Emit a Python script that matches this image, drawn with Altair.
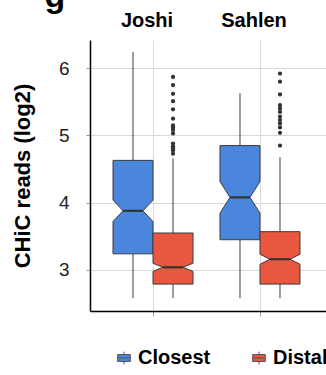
import altair as alt
import pandas as pd

# ---- data ----
groups = ["Joshi", "Sahlen"]
types = ["Closest", "Distal"]
# box order: Joshi-Closest, Joshi-Distal, Sahlen-Closest, Sahlen-Distal
whisker_low = [2.58, 2.58, 2.58, 2.58]
q1 = [3.24, 2.79, 3.45, 2.79]
median = [3.88, 3.04, 4.08, 3.16]
q3 = [4.63, 3.55, 4.85, 3.57]
whisker_high = [6.24, 4.66, 5.63, 4.68]
notch = [0.16, 0.06, 0.235, 0.075]
outliers_joshi_distal = [5.87, 5.75, 5.62, 5.51, 5.39, 5.25, 5.15, 5.12, 5.08,
                         5.03, 4.88, 4.84, 4.81, 4.78, 4.73]
outliers_sahlen_distal = [5.92, 5.80, 5.61, 5.45, 5.40, 5.35, 5.28, 5.23, 5.18,
                          5.12, 5.04, 4.85]
panel_letter = ["g"]

colors = ["#4A86DC", "#E8573E"]
edge = "#3d3d3d"
HW = 0.187          # half box width in group units
INDENT = HW * 0.5   # notch depth

area_rows, box_rows, med_rows, pt_rows = [], [], [], []
for i in range(4):
    g, t = i // 2, i % 2
    c = g + (-HW if t == 0 else HW)
    key = f"{groups[g]}-{types[t]}"
    n = notch[i]
    for yv, ind in [(q1[i], 0), (median[i] - n, 0), (median[i], INDENT),
                    (median[i] + n, 0), (q3[i], 0)]:
        area_rows.append(dict(box=key, type=types[t], y=yv,
                              left=c - HW + ind, right=c + HW - ind))
    box_rows.append(dict(box=key, x=c, lo=whisker_low[i], q1=q1[i],
                         q3=q3[i], hi=whisker_high[i]))
    med_rows.append(dict(box=key, x1=c - HW + INDENT, x2=c + HW - INDENT,
                         med=median[i]))
for v in outliers_joshi_distal:
    pt_rows.append(dict(x=0 + HW, y=v))
for v in outliers_sahlen_distal:
    pt_rows.append(dict(x=1 + HW, y=v))

area_df = pd.DataFrame(area_rows)
box_df = pd.DataFrame(box_rows)
med_df = pd.DataFrame(med_rows)
pt_df = pd.DataFrame(pt_rows)
lab_df = pd.DataFrame(dict(x=[0, 1], name=groups))
letter_df = pd.DataFrame(dict(t=panel_letter))

xs = alt.Scale(domain=[-0.589, 1.617], nice=False, zero=False)
ys = alt.Scale(domain=[2.39, 6.42], nice=False, zero=False)

xaxis = alt.Axis(values=[0, 1], labels=False, title=None, grid=True,
                 gridColor="#d9d9d9", gridWidth=1, domainColor="#000000",
                 domainWidth=1.5, tickColor="#999999", tickSize=5)
yaxis = alt.Axis(values=[3, 4, 5, 6], format="d", title="CHiC reads (log2)",
                 grid=True, gridColor="#d9d9d9", gridWidth=1,
                 domainColor="#000000", domainWidth=1.5, tickColor="#999999",
                 tickSize=4, labelPadding=17, labelFontSize=19,
                 labelColor="#222222", titleFontSize=22, titleFontWeight="bold",
                 titleColor="#000000", titlePadding=24)

whisk_lo = alt.Chart(box_df).mark_rule(color=edge, strokeWidth=1).encode(
    x=alt.X("x:Q", scale=xs, axis=xaxis),
    y=alt.Y("lo:Q", scale=ys, axis=yaxis),
    y2="q1:Q")
whisk_hi = alt.Chart(box_df).mark_rule(color=edge, strokeWidth=1).encode(
    x=alt.X("x:Q", scale=xs), y=alt.Y("q3:Q", scale=ys), y2="hi:Q")

boxes = alt.Chart(area_df).mark_area(orient="horizontal", stroke=edge,
                                     strokeWidth=1, opacity=1).encode(
    y=alt.Y("y:Q", scale=ys),
    x=alt.X("left:Q", scale=xs),
    x2="right:Q",
    detail="box:N",
    fill=alt.Fill("type:N", scale=alt.Scale(domain=types, range=colors),
                  legend=alt.Legend(
                      title=None, orient="none", direction="horizontal",
                      legendX=24, legendY=308, padding=0,
                      symbolType="M-1,-0.55H1V0.55H-1Z M-1,0H1 M0,-1V-0.55 M0,0.55V1",
                      symbolSize=160, symbolStrokeColor="#555555",
                      symbolStrokeWidth=1, symbolOpacity=1,
                      labelFontSize=20, labelFontWeight="bold",
                      labelColor="#000000", labelOffset=4,
                      columnPadding=38)),
)

meds = alt.Chart(med_df).mark_rule(color="#333333", strokeWidth=2.2).encode(
    x=alt.X("x1:Q", scale=xs), x2="x2:Q", y=alt.Y("med:Q", scale=ys))

pts = alt.Chart(pt_df).mark_circle(color="#333333", size=18, opacity=1).encode(
    x=alt.X("x:Q", scale=xs), y=alt.Y("y:Q", scale=ys))

labels = alt.Chart(lab_df).mark_text(fontSize=20, fontWeight="bold",
                                     color="#000000", baseline="alphabetic",
                                     dx=-6).encode(
    x=alt.X("x:Q", scale=xs), y=alt.value(-13), text="name:N")

letter = alt.Chart(letter_df).mark_text(fontSize=34, fontWeight="bold",
                                        color="#000000", baseline="alphabetic",
                                        align="center").encode(
    x=alt.value(-35), y=alt.value(-33), text="t:N")

chart = alt.layer(whisk_lo, whisk_hi, boxes, meds, pts, labels, letter).properties(
    width=236, height=271,
    autosize=alt.AutoSizeParams(type="none"),
    padding={"left": 90, "top": 40, "right": 0, "bottom": 64},
).configure(font="Liberation Sans").configure_view(stroke=None)

chart.save("out.html", embed_options={"renderer": "svg", "actions": False})
